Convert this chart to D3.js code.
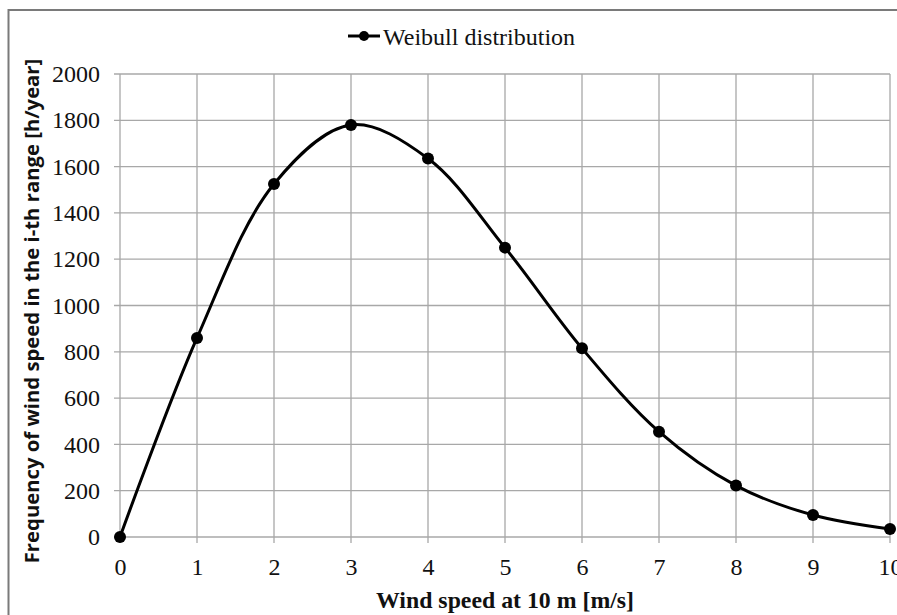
<!DOCTYPE html>
<html><head><meta charset="utf-8">
<script src="https://cdn.jsdelivr.net/npm/d3@7"></script>
<style>body{margin:0;background:#fff;} svg{display:block;}</style>
</head><body>
<svg id="chart" width="897" height="615"></svg>
<script>
const windSpeed = [0, 1, 2, 3, 4, 5, 6, 7, 8, 9, 10];
const frequency = [0, 860, 1525, 1780, 1635, 1250, 815, 455, 222, 95, 35];
const yTicks = [0, 200, 400, 600, 800, 1000, 1200, 1400, 1600, 1800, 2000];
const xTicks = [0, 1, 2, 3, 4, 5, 6, 7, 8, 9, 10];
const seriesName = "Weibull distribution";
const xTitle = "Wind speed at 10 m [m/s]";
const yTitle = "Frequency of wind speed in the i-th range [h/year]";

(function () {
const svg = d3.select("#chart");
const pL = 120, pR = 890, pT = 74, pB = 537;
const x = d3.scaleLinear().domain([0, 10]).range([pL, pR]);
const y = d3.scaleLinear().domain([0, 2000]).range([pB, pT]);
const serif = "'Liberation Serif','Times New Roman',serif";

// outer frame
svg.append("rect").attr("x", 8.5).attr("y", 10).attr("width", 920).attr("height", 640)
  .attr("fill", "none").attr("stroke", "#7a7a7a").attr("stroke-width", 2);

// gridlines
const grid = svg.append("g").attr("stroke", "#a8a8a8").attr("stroke-width", 1.3);
yTicks.forEach(v => grid.append("line").attr("x1", pL - 6).attr("x2", pR)
  .attr("y1", y(v)).attr("y2", y(v)));
xTicks.forEach(v => grid.append("line").attr("x1", x(v)).attr("x2", x(v))
  .attr("y1", pT).attr("y2", pB + 6));

// axis labels via d3 axes
const yAxis = svg.append("g").attr("transform", `translate(${pL - 20},0)`)
  .call(d3.axisLeft(y).tickValues(yTicks).tickSize(0).tickPadding(0).tickFormat(d3.format("d")));
yAxis.select(".domain").remove();
yAxis.selectAll("text").attr("font-family", serif).attr("font-size", 24).attr("fill", "#111");

const xAxis = svg.append("g").attr("transform", `translate(0,575)`)
  .call(d3.axisBottom(x).tickValues(xTicks).tickSize(0).tickPadding(0).tickFormat(d3.format("d")));
xAxis.select(".domain").remove();
xAxis.selectAll("text").attr("y", 0).attr("dy", 0).attr("font-family", serif)
  .attr("font-size", 24).attr("fill", "#111");

// line
const data = windSpeed.map((d, i) => ({ x: d, y: frequency[i] }));
const line = d3.line().x(d => x(d.x)).y(d => y(d.y)).curve(d3.curveCatmullRom.alpha(0.5));
svg.append("path").datum(data).attr("d", line).attr("fill", "none")
  .attr("stroke", "#000").attr("stroke-width", 3);
svg.append("g").selectAll("circle").data(data).join("circle")
  .attr("cx", d => x(d.x)).attr("cy", d => y(d.y)).attr("r", 6).attr("fill", "#000");

// legend
const lg = svg.append("g");
lg.append("line").attr("x1", 348).attr("x2", 380).attr("y1", 36).attr("y2", 36)
  .attr("stroke", "#000").attr("stroke-width", 3);
lg.append("circle").attr("cx", 364).attr("cy", 36).attr("r", 5).attr("fill", "#000");
lg.append("text").attr("x", 383).attr("y", 45).attr("font-family", serif)
  .attr("font-size", 24).attr("fill", "#111").text(seriesName);

// titles
svg.append("text").attr("x", 505).attr("y", 608).attr("text-anchor", "middle")
  .attr("font-family", serif).attr("font-weight", "bold").attr("font-size", 23.8)
  .attr("fill", "#111").text(xTitle);
svg.append("text").attr("transform", "translate(39,311) rotate(-90)")
  .attr("text-anchor", "middle").attr("font-family", "'Open Sans','Liberation Sans',sans-serif")
  .attr("font-weight", "bold").attr("font-size", 20.3).attr("fill", "#111").text(yTitle);
})();
</script>
</body></html>
